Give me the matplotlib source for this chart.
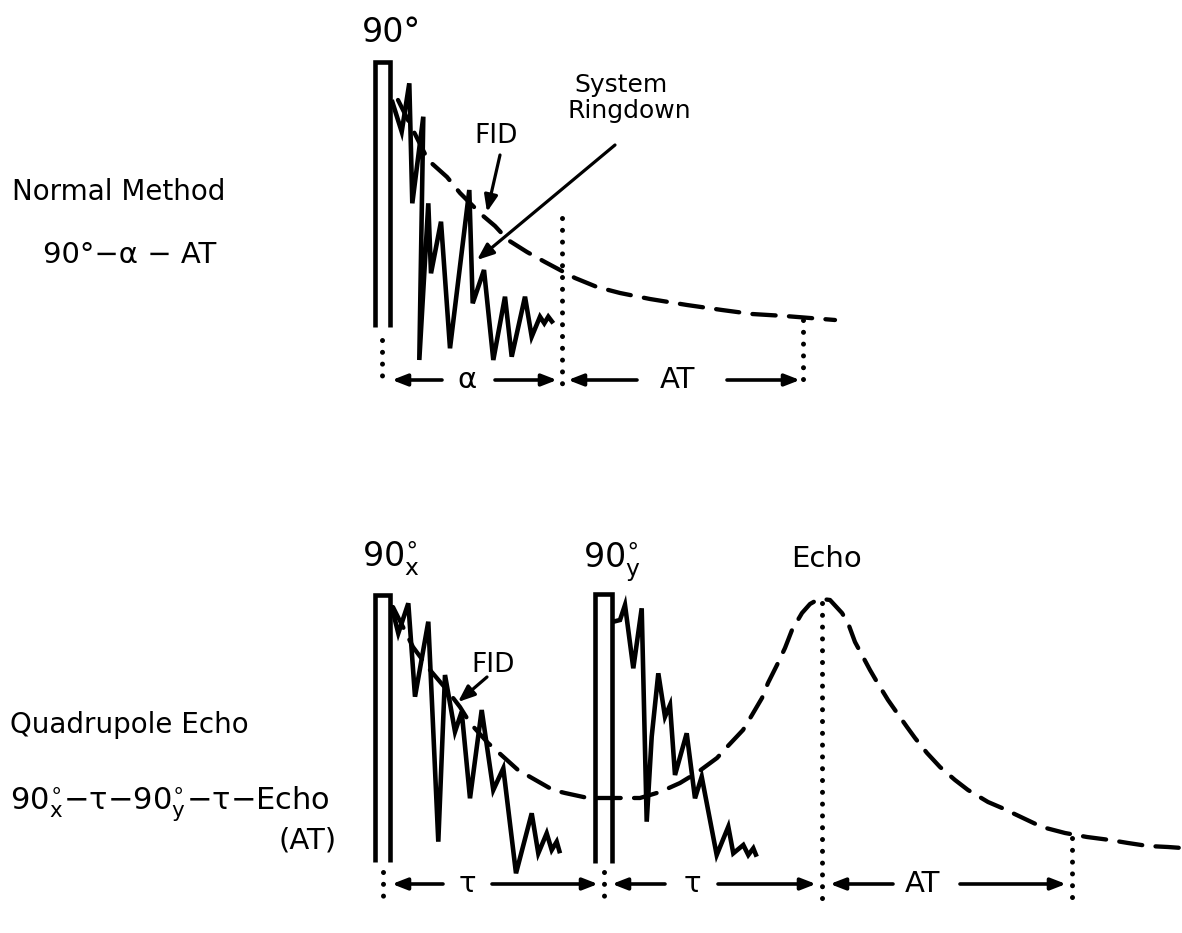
import matplotlib
matplotlib.use("Agg")
import matplotlib.pyplot as plt

plt.rcParams['font.family'] = ['DejaVu Sans']
plt.rcParams['mathtext.fontset'] = 'dejavusans'

# ---------------- data (schematic, pixel space of the drawing) ----------------
# Top panel: normal method
top_pulse_x = [375, 375, 390, 390]
top_pulse_y = [327, 62, 62, 327]

top_fid_x = [391.7, 401.7, 409.3, 412.3, 423.3, 419.3, 428.3, 431, 441, 450, 469.3,
             472.7, 484, 493.3, 505, 511.7, 525, 531.7, 540, 544.3, 548.3, 553.3]
top_fid_y = [100, 131.7, 83.3, 203.3, 116.7, 360, 203.3, 273.3, 221.7, 348.3, 190,
             303.3, 270, 360, 296.7, 356.7, 296.7, 336.7, 316.7, 323.3, 316.7, 323.3]

top_env_x = [398, 412, 428, 447, 460, 470, 482, 495, 508, 527, 545, 560, 575, 597,
             620, 650, 687, 722, 752, 785, 810, 835]
top_env_y = [100, 128, 160, 177, 193, 203, 215, 226, 240, 252, 262, 270, 278, 287,
             293, 299, 305, 310, 314, 316, 318, 320]

top_dots = [(382, 340, 385), (562, 218, 385), (803, 320, 383)]   # x, y_top, y_bottom
top_arrow_y = 380
top_arrows = [(442, 392), (495, 557), (637, 568), (727, 800)]    # tail x, head x
top_arrow_labels = [("α", 467), ("AT", 677)]

# Bottom panel: quadrupole echo
bot_pulse1_x = [375, 375, 390, 390]
bot_pulse1_y = [862, 595, 595, 862]
bot_pulse2_x = [595, 595, 612, 612]
bot_pulse2_y = [863, 594, 594, 863]

bot_fid1_x = [391.7, 398.3, 408.3, 415, 428.3, 438.3, 445, 455, 461.7, 470, 481.7,
              493.3, 503.3, 516, 531.7, 538.3, 546.7, 551.7, 556.7, 560]
bot_fid1_y = [606.7, 633.3, 603.3, 696.7, 621.7, 841.7, 675, 731.7, 711.7, 798.3, 710,
              790, 768.3, 873.3, 813.3, 853.3, 833.3, 850, 841.7, 853.3]

bot_fid2_x = [613.3, 620, 625, 633.3, 641.7, 646.7, 651.7, 658.3, 665, 670, 675, 686.7,
              695, 701.7, 716.7, 728.3, 733.3, 743.3, 748.3, 753.3, 756.7]
bot_fid2_y = [621.7, 620, 605, 668.3, 608.3, 821.7, 736.7, 673.3, 716.7, 705, 775, 733.3,
              798.3, 776.7, 855, 826.7, 853.3, 845, 855, 848.3, 856.7]

bot_env_x = [393, 413, 430, 447, 460, 470, 488, 498, 518, 532, 553, 565, 588, 600, 620,
             640, 660, 680, 698, 717, 727, 743, 752, 762, 768, 777, 785, 792, 802, 810,
             817, 822, 830, 842, 848, 855, 862, 870, 877, 888, 895, 907, 915, 927, 940,
             955, 968, 988, 1002, 1023, 1042, 1065, 1087, 1110, 1128, 1148, 1168, 1182]
bot_env_y = [607, 647, 670, 690, 707, 723, 743, 752, 770, 778, 790, 793, 798, 798, 798,
             798, 792, 783, 772, 758, 747, 730, 715, 698, 683, 665, 648, 630, 613, 604,
             600, 599, 600, 613, 623, 642, 655, 670, 682, 700, 710, 727, 738, 753, 767,
             780, 790, 802, 808, 818, 827, 833, 837, 840, 843, 846, 847, 848]

bot_dots = [(383, 872, 902), (604, 872, 902), (822, 603, 902), (1072, 838, 902)]
bot_arrow_y = 884
bot_arrows = [(443, 392), (492, 598), (665, 612), (718, 816), (893, 830), (960, 1066)]
bot_arrow_labels = [("τ", 467), ("τ", 692), ("AT", 922)]

# Pointer arrows: (tail x, tail y, head x, head y)
pointer_arrows = [(500, 155, 487, 212), (615, 145, 477, 260), (487, 677, 458, 702)]

# ---------------- drawing ----------------
W, H = 1182, 933
fig = plt.figure(figsize=(W / 100, H / 100), dpi=100)
ax = fig.add_axes([0, 0, 1, 1])
ax.set_xlim(0, W)
ax.set_ylim(H, 0)
ax.axis('off')

LW = 3.3
solid = dict(color='black', lw=LW, solid_joinstyle='miter', solid_capstyle='butt')
dashed = dict(color='black', lw=3.1, ls=(0, (5.4, 3.1)), dash_capstyle='round')
dotted = dict(color='black', lw=3.6, ls=(0, (0.01, 2.35)), dash_capstyle='round')

for px, py in [(top_pulse_x, top_pulse_y), (bot_pulse1_x, bot_pulse1_y),
               (bot_pulse2_x, bot_pulse2_y)]:
    ax.plot(px, py, **solid)

ax.plot(top_fid_x, top_fid_y, **solid)
ax.plot(bot_fid1_x, bot_fid1_y, **solid)
ax.plot(bot_fid2_x, bot_fid2_y, **solid)

ax.plot(top_env_x, top_env_y, **dashed)
ax.plot(bot_env_x, bot_env_y, **dashed)

for x, y0, y1 in top_dots + bot_dots:
    ax.plot([x, x], [y0, y1], **dotted)

arrow_style = dict(arrowstyle='-|>,head_length=0.9,head_width=0.35', color='black',
                   lw=2.6, shrinkA=0, shrinkB=0)
for tail, head in top_arrows:
    ax.annotate('', xy=(head, top_arrow_y), xytext=(tail, top_arrow_y),
                arrowprops=arrow_style)
for tail, head in bot_arrows:
    ax.annotate('', xy=(head, bot_arrow_y), xytext=(tail, bot_arrow_y),
                arrowprops=arrow_style)
for tx, ty, hx, hy in pointer_arrows:
    ax.annotate('', xy=(hx, hy), xytext=(tx, ty),
                arrowprops=dict(arrowstyle='-|>,head_length=1.0,head_width=0.4',
                                color='black', lw=2.3, shrinkA=0, shrinkB=0))

for lab, x in top_arrow_labels:
    ax.text(x, top_arrow_y, lab, ha='center', va='center', fontsize=21)
for lab, x in bot_arrow_labels:
    ax.text(x, bot_arrow_y, lab, ha='center', va='center', fontsize=21)

# Labels
ax.text(362, 42, "90°", ha='left', va='baseline', fontsize=24)
ax.text(496, 143, "FID", ha='center', va='baseline', fontsize=19)
ax.text(621, 92, "System", ha='center', va='baseline', fontsize=18)
ax.text(629, 118, "Ringdown", ha='center', va='baseline', fontsize=18)

ax.text(12, 200, "Normal Method", ha='left', va='baseline', fontsize=20)
ax.text(43, 263, "90°−α − AT", ha='left', va='baseline', fontsize=21)

ax.text(362, 567, r"90$^{\circ}_{\mathrm{x}}$", ha='left', va='baseline', fontsize=24)
ax.text(583, 567, r"90$^{\circ}_{\mathrm{y}}$", ha='left', va='baseline', fontsize=24)
ax.text(826, 567, "Echo", ha='center', va='baseline', fontsize=21)
ax.text(493, 672, "FID", ha='center', va='baseline', fontsize=19)

ax.text(10, 733, "Quadrupole Echo", ha='left', va='baseline', fontsize=20)
ax.text(10, 810, r"90$^{\circ}_{\mathrm{x}}$−τ−90$^{\circ}_{\mathrm{y}}$−τ−Echo",
        ha='left', va='baseline', fontsize=22)
ax.text(337, 849, "(AT)", ha='right', va='baseline', fontsize=21)

fig.savefig("out.png", dpi=100, facecolor='white')
